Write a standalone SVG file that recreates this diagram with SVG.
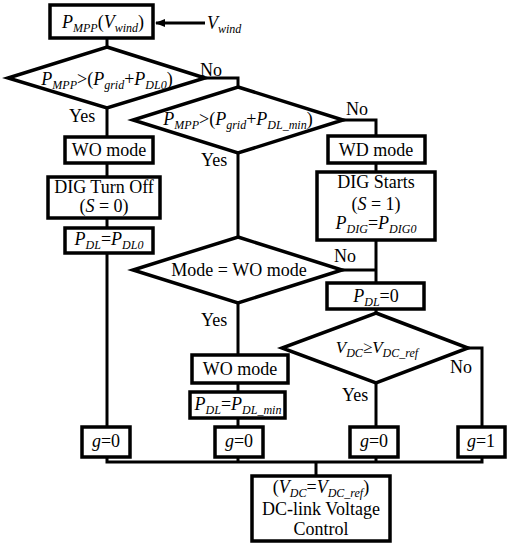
<svg xmlns="http://www.w3.org/2000/svg" width="513" height="550" viewBox="0 0 513 550">
<defs>
<style>
.b{fill:#fff;stroke:#000;stroke-width:3.5}
.c{fill:none;stroke:#000;stroke-width:3}
text{font-family:"Liberation Serif","Times New Roman",serif;font-size:18px;fill:#000}
.m{text-anchor:middle}
.i{font-style:italic}
.s{font-style:italic;font-size:12px}
</style>
<marker id="ah" markerWidth="10" markerHeight="8" refX="9" refY="4" orient="auto" markerUnits="userSpaceOnUse">
<path d="M0,0 L10,4 L0,8 Z" fill="#000"/>
</marker>
</defs>
<rect width="513" height="550" fill="#fff"/>
<g id="connectors">
<line class="c" x1="205" y1="23" x2="156" y2="23" marker-end="url(#ah)"/>
<polyline class="c" points="107,38 107,47"/>
<polyline class="c" points="205,78 238,78 238,87"/>
<polyline class="c" points="107,108 107,137"/>
<polyline class="c" points="107,163 107,177"/>
<polyline class="c" points="107,218 107,228"/>
<polyline class="c" points="107,253 107,427"/>
<polyline class="c" points="343,120 376,120 376,136"/>
<polyline class="c" points="376,163 376,172"/>
<polyline class="c" points="376,240 376,283"/>
<polyline class="c" points="342,270 376,270"/>
<polyline class="c" points="238,153 238,237"/>
<polyline class="c" points="238,303 238,355"/>
<polyline class="c" points="238,383 238,392"/>
<polyline class="c" points="238,418 238,427"/>
<polyline class="c" points="376,309 376,313"/>
<polyline class="c" points="468,348 482,348 482,427"/>
<polyline class="c" points="376,383 376,427"/>
<polyline class="c" points="107,457 107,462 482,462 482,457"/>
<polyline class="c" points="238,457 238,462"/>
<polyline class="c" points="376,457 376,462"/>
<polyline class="c" points="316,462 316,476"/>
<text x="200" y="76">No</text>
<text x="69" y="122">Yes</text>
<text x="346" y="115">No</text>
<text x="201" y="166">Yes</text>
<text x="334" y="262">No</text>
<text x="201" y="326">Yes</text>
<text x="450" y="373">No</text>
<text x="342" y="401">Yes</text>
<text x="207" y="29"><tspan class="i">V</tspan><tspan class="s" dy="4">wind</tspan></text>
</g>
<g id="n_mpp">
<rect class="b" x="50" y="5" width="103" height="33"/>
<text class="m" x="103" y="28"><tspan class="i">P</tspan><tspan class="s" dy="4">MPP</tspan><tspan dy="-4">(</tspan><tspan class="i">V</tspan><tspan class="s" dy="4">wind</tspan><tspan dy="-4">)</tspan></text>
</g>
<g id="d1">
<polygon class="b" points="107,47 205,78 107,108 8,78"/>
<text class="m" x="107" y="85"><tspan class="i">P</tspan><tspan class="s" dy="4">MPP</tspan><tspan dy="-4">&gt;(</tspan><tspan class="i">P</tspan><tspan class="s" dy="4">grid</tspan><tspan dy="-4">+</tspan><tspan class="i">P</tspan><tspan class="s" dy="4">DL0</tspan><tspan dy="-4">)</tspan></text>
</g>
<g id="d2">
<polygon class="b" points="238,87 343,120 238,153 133,120"/>
<text class="m" x="238" y="125"><tspan class="i">P</tspan><tspan class="s" dy="4">MPP</tspan><tspan dy="-4">&gt;(</tspan><tspan class="i">P</tspan><tspan class="s" dy="4">grid</tspan><tspan dy="-4">+</tspan><tspan class="i">P</tspan><tspan class="s" dy="4">DL_min</tspan><tspan dy="-4">)</tspan></text>
</g>
<g id="n_wo1">
<rect class="b" x="65" y="137" width="88" height="26"/>
<text class="m" x="109" y="156">WO mode</text>
</g>
<g id="n_digoff">
<rect class="b" x="48" y="177" width="112" height="41"/>
<text class="m" x="104" y="193">DIG Turn Off</text>
<text class="m" x="104" y="212">(<tspan class="i">S</tspan> = 0)</text>
</g>
<g id="n_pdl0">
<rect class="b" x="65" y="228" width="88" height="25"/>
<text class="m" x="109" y="245"><tspan class="i">P</tspan><tspan class="s" dy="4">DL</tspan><tspan dy="-4">=</tspan><tspan class="i">P</tspan><tspan class="s" dy="4">DL0</tspan></text>
</g>
<g id="n_wd">
<rect class="b" x="328" y="136" width="97" height="27"/>
<text class="m" x="376" y="156">WD mode</text>
</g>
<g id="n_digstart">
<rect class="b" x="317" y="172" width="118" height="68"/>
<text class="m" x="376" y="188">DIG Starts</text>
<text class="m" x="376" y="210">(<tspan class="i">S</tspan> = 1)</text>
<text class="m" x="376" y="229"><tspan class="i">P</tspan><tspan class="s" dy="4">DIG</tspan><tspan dy="-4">=</tspan><tspan class="i">P</tspan><tspan class="s" dy="4">DIG0</tspan></text>
</g>
<g id="d3">
<polygon class="b" points="238,237 342,270 238,303 133,270"/>
<text class="m" x="239" y="276">Mode = WO mode</text>
</g>
<g id="n_pdlz">
<rect class="b" x="327" y="283" width="97" height="26"/>
<text class="m" x="376" y="302"><tspan class="i">P</tspan><tspan class="s" dy="4">DL</tspan><tspan dy="-4">=0</tspan></text>
</g>
<g id="d4">
<polygon class="b" points="376,313 468,348 376,383 282,348"/>
<text class="m" x="377" y="353" style="font-size:17px"><tspan class="i">V</tspan><tspan class="s" dy="4">DC</tspan><tspan dy="-4">≥</tspan><tspan class="i">V</tspan><tspan class="s" dy="4">DC_ref</tspan></text>
</g>
<g id="n_wo2">
<rect class="b" x="192" y="355" width="96" height="28"/>
<text class="m" x="240" y="375">WO mode</text>
</g>
<g id="n_pdlmin">
<rect class="b" x="190" y="392" width="95" height="26"/>
<text class="m" x="238" y="410"><tspan class="i">P</tspan><tspan class="s" dy="4">DL</tspan><tspan dy="-4">=</tspan><tspan class="i">P</tspan><tspan class="s" dy="4">DL_min</tspan></text>
</g>
<g id="n_g1">
<rect class="b" x="82" y="427" width="48" height="30"/>
<text class="m" x="106" y="447"><tspan class="i">g</tspan>=0</text>
</g>
<g id="n_g2">
<rect class="b" x="215" y="427" width="48" height="30"/>
<text class="m" x="239" y="447"><tspan class="i">g</tspan>=0</text>
</g>
<g id="n_g3">
<rect class="b" x="350" y="427" width="48" height="30"/>
<text class="m" x="374" y="447"><tspan class="i">g</tspan>=0</text>
</g>
<g id="n_g4">
<rect class="b" x="458" y="427" width="47" height="30"/>
<text class="m" x="481" y="447"><tspan class="i">g</tspan>=1</text>
</g>
<g id="n_dc">
<rect class="b" x="252" y="476" width="138" height="65"/>
<text class="m" x="321" y="493">(<tspan class="i">V</tspan><tspan class="s" dy="4">DC</tspan><tspan dy="-4">=</tspan><tspan class="i">V</tspan><tspan class="s" dy="4">DC_ref</tspan><tspan dy="-4">)</tspan></text>
<text class="m" x="321" y="515">DC-link Voltage</text>
<text class="m" x="321" y="535">Control</text>
</g>
</svg>
